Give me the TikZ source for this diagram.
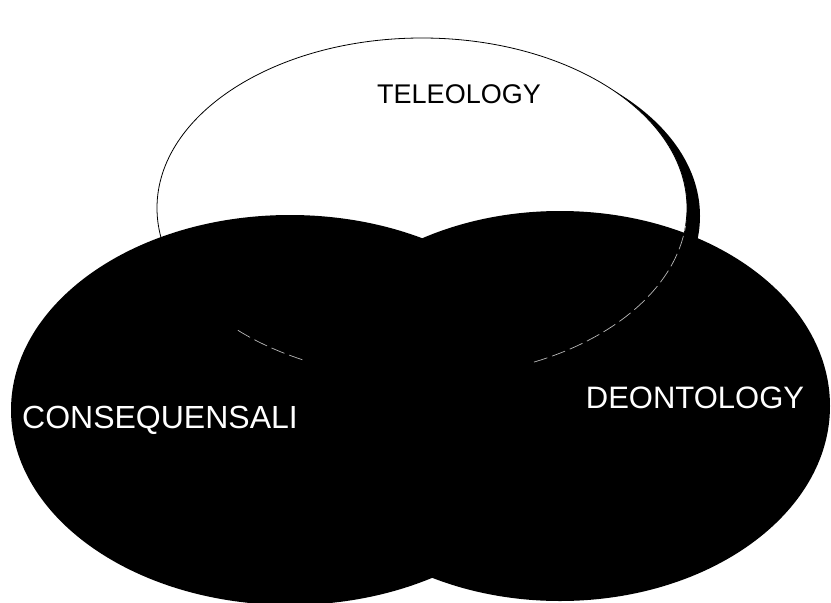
\documentclass[tikz,border=0pt]{standalone}
\usepackage{fontspec}
\setmainfont{Liberation Sans}
\usepackage{tikz}
\usetikzlibrary{shapes.geometric}

\begin{document}
\begin{tikzpicture}[x=1pt, y=-1pt,
  blob/.style={ellipse, fill=black, inner sep=0pt, outer sep=0pt},
  seam/.style={draw=white!72!black, line width=0.7pt, dash pattern=on 14pt off 5pt},
  tag/.style={inner sep=0pt, anchor=base}]
  \useasboundingbox (0,0) rectangle (831,603);

  % Teleology, with its dark rim
  \node[blob, minimum width=530pt, minimum height=340pt] (rim) at (435,216) {};
  \node[ellipse, draw, fill=white, line width=0.8pt, inner sep=0pt,
        minimum width=530pt, minimum height=340pt] (teleology) at (422,208) {};

  % Lower ellipses
  \node[blob, minimum width=558pt, minimum height=390pt] (conseq) at (290,410) {};
  \node[blob, minimum width=540pt, minimum height=390pt] (deont) at (560,406) {};

  % Hidden edge of teleology
  \draw[seam] ([shift={(226:265pt and 170pt)}]teleology.center)
    arc[start angle=226, end angle=244, x radius=265pt, y radius=170pt];
  \draw[seam] ([shift={(295:265pt and 170pt)}]teleology.center)
    arc[start angle=295, end angle=354, x radius=265pt, y radius=170pt];

  % Labels
  \node[tag, font=\fontsize{27}{30}\selectfont] (tele) at (459,103) {TELEOLOGY};
  \node[tag, text=white, font=\fontsize{32}{36}\selectfont] (cons) at (160,428) {CONSEQUENSALI};
  \node[tag, text=white, font=\fontsize{31}{34}\selectfont] (deon) at (695,408) {DEONTOLOGY};
\end{tikzpicture}
\end{document}
